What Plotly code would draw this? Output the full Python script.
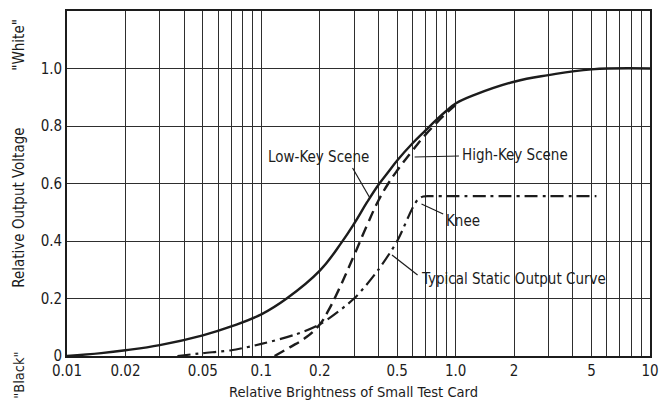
import plotly.graph_objects as go

# ---- data ----
low_key_x = [0.01, 0.015, 0.02, 0.03, 0.05, 0.07, 0.1, 0.135, 0.2, 0.26, 0.3, 0.35, 0.4, 0.45, 0.5, 0.6, 0.7, 0.8, 0.9, 1.0, 1.25, 2, 3, 5, 10]
low_key_y = [0.0, 0.01, 0.02, 0.038, 0.072, 0.103, 0.145, 0.2, 0.297, 0.397, 0.46, 0.535, 0.595, 0.64, 0.68, 0.74, 0.785, 0.823, 0.854, 0.878, 0.908, 0.954, 0.977, 0.997, 1.0]

high_key_x = [0.117, 0.14, 0.17, 0.2, 0.22, 0.25, 0.3, 0.35, 0.4, 0.45, 0.5, 0.6, 0.7, 0.8, 0.9, 1.0]
high_key_y = [0.0, 0.03, 0.065, 0.11, 0.155, 0.23, 0.35, 0.455, 0.54, 0.6, 0.645, 0.715, 0.77, 0.812, 0.846, 0.874]

static_x = [0.037, 0.05, 0.07, 0.1, 0.15, 0.2, 0.3, 0.4, 0.5, 0.6, 0.64, 0.68, 0.75, 1.0, 5.3]
static_y = [0.0, 0.01, 0.02, 0.042, 0.075, 0.11, 0.2, 0.3, 0.4, 0.515, 0.545, 0.555, 0.556, 0.556, 0.556]

x_tick_vals = [m * 10 ** e for e in (-2, -1, 0) for m in range(1, 10)] + [10]
x_tick_labels = {0.01: "0.01", 0.02: "0.02", 0.05: "0.05", 0.1: "0.1", 0.2: "0.2",
                 0.5: "0.5", 1: "1.0", 2: "2", 5: "5", 10: "10"}
y_tick_vals = [0, 0.2, 0.4, 0.6, 0.8, 1.0]
y_tick_text = ["0", "0.2", "0.4", "0.6", "0.8", "1.0"]

FONT = "DejaVu Sans Condensed, Liberation Sans Narrow, Arial Narrow, sans-serif"
INK = "#1c1c1c"
GRID = "#2e2e2e"

def lab(v):
    for k, t in x_tick_labels.items():
        if abs(v - k) < 1e-9:
            return t
    return ""

fig = go.Figure()
fig.add_trace(go.Scatter(x=low_key_x, y=low_key_y, mode="lines", name="Low-Key Scene",
                         line=dict(color=INK, width=2.4, shape="spline", smoothing=1.2)))
fig.add_trace(go.Scatter(x=high_key_x, y=high_key_y, mode="lines", name="High-Key Scene",
                         line=dict(color=INK, width=2.4, shape="spline", smoothing=1.2, dash="11px,6px")))
fig.add_trace(go.Scatter(x=static_x, y=static_y, mode="lines", name="Typical Static Output Curve",
                         line=dict(color=INK, width=2.2, shape="spline", smoothing=0.8, dash="13px,5px,3px,5px")))

# plot area in pixels
L, R, T, B = 67, 659, 11, 356
W, H = 666, 404

def px(x):
    return (x - L) / (R - L)

def py(y):
    return (B - y) / (B - T)

shapes = []
for (x0, y0, x1, y1) in [(357, 168, 374, 197), (420, 157, 465, 156), (427, 204, 449, 214), (397, 255, 423, 275)]:
    shapes.append(dict(type="line", xref="paper", yref="paper", x0=px(x0), y0=py(y0), x1=px(x1), y1=py(y1),
                       line=dict(color=INK, width=1.2)))

annots = []
def txt(text, x, y, xanchor="left", size=15, angle=0):
    annots.append(dict(text=text, xref="paper", yref="paper", x=px(x), y=py(y), xanchor=xanchor,
                       yanchor="middle", showarrow=False, textangle=angle,
                       font=dict(family=FONT, size=size, color=INK)))

txt("Low-Key Scene", 322, 157, "center")
txt("High-Key Scene", 466, 155)
txt("Knee", 450, 221)
txt("Typical Static Output Curve", 424, 279)
txt("Relative Brightness of Small Test Card", 358, 391, "center", size=14.6)
txt("Relative Output Voltage", 18, 208, "center", size=15, angle=-90)
txt('"White"', 18, 45, "center", size=15, angle=-90)
txt('"Black"', 18, 375, "center", size=14.5, angle=-90)

fig.update_layout(
    width=W, height=H,
    margin=dict(l=L, r=W - R, t=T, b=H - B),
    paper_bgcolor="white", plot_bgcolor="white",
    showlegend=False,
    shapes=shapes, annotations=annots,
    font=dict(family=FONT, size=15, color=INK),
)
fig.update_xaxes(type="log", range=[-2, 1], tickvals=x_tick_vals, ticktext=[lab(v) for v in x_tick_vals],
                 showgrid=True, gridcolor=GRID, gridwidth=1.3, showline=True, linecolor=INK, linewidth=1.6,
                 mirror=True, ticks="", zeroline=False, tickfont=dict(family=FONT, size=15, color=INK))
fig.update_yaxes(range=[0, 1.2], tickvals=y_tick_vals, ticktext=y_tick_text,
                 showgrid=True, gridcolor=GRID, gridwidth=1.3, showline=True, linecolor=INK, linewidth=1.6,
                 mirror=True, ticks="", zeroline=False, tickfont=dict(family=FONT, size=15, color=INK))

fig.write_html("out.html", config={"displayModeBar": False},
               post_script="document.body.style.margin='0px';")
